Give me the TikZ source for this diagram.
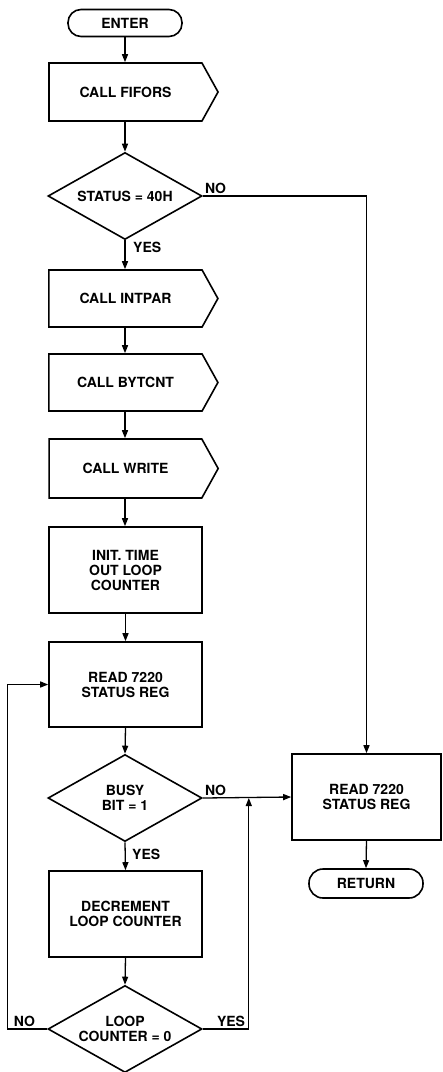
\documentclass[tikz,border=0pt]{standalone}
\usepackage{fontspec}
\setmainfont{TeX Gyre Heros}
\usetikzlibrary{arrows.meta,shapes.geometric,shapes.symbols}

\tikzset{
  box/.style={draw, line width=1.6pt, minimum width=153pt, minimum height=86pt, align=center, inner sep=2pt},
  callbox/.style={draw, line width=1.6pt, signal, signal to=east, signal pointer angle=122,
    minimum width=169pt, minimum height=58pt, inner sep=2pt},
  term/.style={draw, line width=1.6pt, rounded corners=13pt, minimum width=114pt, minimum height=27pt, inner sep=0pt},
  test/.style={draw, line width=1.6pt, diamond, aspect=1.77, minimum width=154pt, minimum height=87pt,
    inner sep=0pt, align=center},
  conn/.style={line width=1.3pt, -{Triangle[length=8pt,width=6pt]}},
  lbl/.style={inner sep=2pt},
}

\begin{document}
\begin{tikzpicture}[x=1pt, y=-1pt, every node/.style={font=\fontsize{14}{15}\selectfont\bfseries}]
    \useasboundingbox (0,0) rectangle (443,1072);
    % Main column
    \node[term] (enter) at (125,23) {ENTER};
    \node[callbox] (fifors) at (125.5,92) {CALL FIFORS};
    \node[test] (status) at (125,196) {STATUS = 40H};
    \node[callbox, minimum height=57pt] (intpar) at (125.5,298.5) {CALL INTPAR};
    \node[callbox, minimum height=57pt] (bytcnt) at (125.5,382.5) {CALL BYTCNT};
    \node[callbox, minimum height=59pt] (write) at (125.5,468.5) {CALL WRITE};
    \node[box] (init) at (125.5,570) {INIT. TIME\\OUT LOOP\\COUNTER};
    \node[box, minimum height=85pt] (read) at (125.5,684.5) {READ 7220\\STATUS REG};
    \node[test] (busy) at (125,798) {BUSY\\BIT = 1};
    \node[box] (dec) at (125.5,914) {DECREMENT\\LOOP COUNTER};
    \node[test] (loop) at (125,1029) {LOOP\\COUNTER = 0};
    % Right column
    \node[box, minimum width=149pt] (rread) at (366.5,797) {READ 7220\\STATUS REG};
    \node[term, minimum height=29pt, rounded corners=14pt] (return) at (366,883.5) {RETURN};
    % Straight connectors
    \draw[conn] (enter.south) -- (enter.south |- fifors.north);
    \draw[conn] (enter.south |- fifors.south) -- (status.north);
    \draw[conn] (status.south) -- (status.south |- intpar.north);
    \draw[conn] (status.south |- intpar.south) -- (status.south |- bytcnt.north);
    \draw[conn] (status.south |- bytcnt.south) -- (status.south |- write.north);
    \draw[conn] (status.south |- write.south) -- (status.south |- init.north);
    \draw[conn] (init.south) -- (read.north);
    \draw[conn] (read.south) -- (busy.north);
    \draw[conn] (busy.south) -- (dec.north);
    \draw[conn] (dec.south) -- (loop.north);
    \draw[conn] (rread.south) -- (return.north);
    % Branches
    \draw[conn] (status.east) -| (rread.north);
    \draw[conn] (busy.east) -- (rread.west);
    \coordinate (busyjoin) at ([xshift=46pt]busy.east);
    \draw[conn] (loop.east) -| (busyjoin);
    \draw[conn] (loop.west) -- ++(-40,0) |- (read.west);
    % Labels
    \node[lbl, anchor=south west] (statusno) at (status.east) {NO};
    \node[lbl, anchor=north west, xshift=6pt] (statusyes) at (status.south) {YES};
    \node[lbl, anchor=south west] (busyno) at (busy.east) {NO};
    \node[lbl, anchor=north west, xshift=5pt, yshift=-5pt] (busyyes) at (busy.south) {YES};
    \node[lbl, anchor=south east, xshift=-10pt] (loopno) at (loop.west) {NO};
    \node[lbl, anchor=south west, xshift=12pt] (loopyes) at (loop.east) {YES};
\end{tikzpicture}
\end{document}
